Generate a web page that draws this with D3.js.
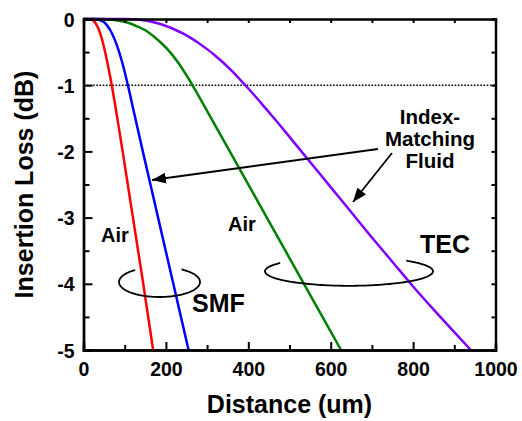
<!DOCTYPE html>
<html>
<head>
<meta charset="utf-8">
<script src="https://cdn.jsdelivr.net/npm/d3@7"></script>
<style>
  body { margin: 0; background: #fff; }
  text { font-family: "Liberation Sans", Arial, sans-serif; font-weight: bold; }
</style>
</head>
<body>
<div id="chart"></div>
<script>
// valeurs : [distance (um), perte (dB)]
const smfAir = [[0,0],[15,0],[20,-0.01],[25,-0.03],[30,-0.07],[35,-0.13],[40,-0.21],[45,-0.31],[50,-0.43],[55,-0.57],[60,-0.72],[65,-0.88],[70,-1.05],[75,-1.23],[80,-1.42],[85,-1.61],[95,-2.0],[120,-3.0],[145,-4.0],[169,-5.0]];
const smfFluid = [[0,0],[30,0],[35,-0.005],[40,-0.015],[45,-0.03],[50,-0.05],[55,-0.08],[60,-0.12],[65,-0.17],[70,-0.23],[75,-0.3],[80,-0.38],[85,-0.47],[90,-0.57],[95,-0.68],[100,-0.8],[105,-0.93],[110,-1.06],[115,-1.2],[120,-1.34],[144,-2.0],[181,-3.0],[218,-4.0],[255,-5.0]];
const tecAir = [[0,0],[50,0],[70,-0.01],[90,-0.03],[110,-0.06],[130,-0.11],[150,-0.17],[170,-0.26],[190,-0.37],[210,-0.5],[230,-0.66],[250,-0.85],[270,-1.06],[290,-1.28],[355,-2.0],[445,-3.0],[535,-4.0],[625,-5.0]];
const tecFluid = [[0,0],[100,0],[120,-0.005],[140,-0.015],[160,-0.035],[180,-0.065],[200,-0.105],[220,-0.155],[240,-0.215],[260,-0.285],[280,-0.365],[300,-0.455],[320,-0.555],[340,-0.665],[360,-0.785],[380,-0.915],[400,-1.05],[420,-1.19],[440,-1.335],[460,-1.48],[500,-1.78],[550,-2.16],[600,-2.54],[650,-2.92],[700,-3.3],[750,-3.67],[800,-4.04],[850,-4.39],[900,-4.73],[940,-5.0]];

const series = [
    { name: "SMF air", values: smfAir, color: "#ff0000" },
    { name: "SMF fluid", values: smfFluid, color: "#0000ff" },
    { name: "TEC air", values: tecAir, color: "#008000" },
    { name: "TEC fluid", values: tecFluid, color: "#8000ff" }
];

const xMajor = [0, 200, 400, 600, 800, 1000];
const xMinor = [100, 300, 500, 700, 900];
const yMajor = [0, -1, -2, -3, -4, -5];
const yMinor = [-0.5, -1.5, -2.5, -3.5, -4.5];
const refLevel = -1;

// taille du svg
const width = 522, height = 421;
const margin = { top: 19, right: 26.5, bottom: 71, left: 83.5 };

const svg = d3.select("#chart")
    .append("svg")
    .attr("width", width)
    .attr("height", height);

const x = d3.scaleLinear().domain([0, 1000]).range([margin.left, width - margin.right]);
const y = d3.scaleLinear().domain([-5, 0]).range([height - margin.bottom, margin.top]);

// ligne pointillée à -1 dB
svg.append("line")
    .attr("x1", x(0)).attr("x2", x(1000))
    .attr("y1", y(refLevel)).attr("y2", y(refLevel))
    .attr("stroke", "black")
    .attr("stroke-width", 1.6)
    .attr("stroke-dasharray", "1.6,1.6");

// courbes
const line = d3.line()
    .x(d => x(d[0]))
    .y(d => y(d[1]))
    .curve(d3.curveMonotoneX);

svg.selectAll("path.curve")
    .data(series)
    .join("path")
    .attr("class", "curve")
    .attr("d", d => line(d.values))
    .attr("fill", "none")
    .attr("stroke", d => d.color)
    .attr("stroke-width", 2.5);

// axes (ticks vers l'intérieur)
const fmt = d => String(d);
svg.append("g").attr("transform", `translate(0,${y(-5)})`)
    .call(d3.axisBottom(x).tickValues(xMajor).tickSize(-8).tickPadding(12).tickFormat(fmt));
svg.append("g").attr("transform", `translate(0,${y(-5)})`)
    .call(d3.axisBottom(x).tickValues(xMinor).tickSize(-5).tickFormat(""));
const axisLeft = svg.append("g").attr("transform", `translate(${x(0)},0)`)
    .call(d3.axisLeft(y).tickValues(yMajor).tickSize(-9).tickPadding(9).tickFormat(fmt));
svg.append("g").attr("transform", `translate(${x(0)},0)`)
    .call(d3.axisLeft(y).tickValues(yMinor).tickSize(-6).tickFormat(""));
svg.append("g").attr("transform", `translate(0,${y(0)})`)
    .call(d3.axisTop(x).tickValues(xMajor.concat(xMinor)).tickSize(-4).tickFormat(""));
svg.append("g").attr("transform", `translate(${x(1000)},0)`)
    .call(d3.axisRight(y).tickValues(yMajor.concat(yMinor)).tickSize(-4).tickFormat(""));

svg.selectAll(".domain").attr("stroke", "black").attr("stroke-width", 2.4);
svg.selectAll(".tick line").attr("stroke", "black").attr("stroke-width", 2);
svg.selectAll(".tick text").attr("fill", "black").style("font-size", "19.5px")
    .style("font-family", "'Liberation Sans', Arial, sans-serif").style("font-weight", "bold");
axisLeft.selectAll(".tick text").attr("dy", "0.36em");

// titres des axes
svg.append("text")
    .attr("x", (x(0) + x(1000)) / 2)
    .attr("y", 413)
    .attr("text-anchor", "middle")
    .style("font-size", "25px")
    .text("Distance (um)");

svg.append("text")
    .attr("transform", `translate(33,${(y(0) + y(-5)) / 2}) rotate(-90)`)
    .attr("text-anchor", "middle")
    .style("font-size", "25px")
    .text("Insertion Loss (dB)");

// annotations
const labels = svg.append("g").style("fill", "black");
labels.append("text").attr("x", 101).attr("y", 242).style("font-size", "20px").text("Air");
labels.append("text").attr("x", 228).attr("y", 231).style("font-size", "20px").text("Air");
labels.append("text").attr("x", 192).attr("y", 312).style("font-size", "25px").text("SMF");
labels.append("text").attr("x", 420).attr("y", 253).style("font-size", "25px").text("TEC");

const fluid = labels.append("text").attr("text-anchor", "middle").style("font-size", "20.5px");
["Index-", "Matching", "Fluid"].forEach((t, i) => {
    fluid.append("tspan").attr("x", 430).attr("y", 124 + i * 22).text(t);
});

// flèches
svg.append("defs").append("marker")
    .attr("id", "head")
    .attr("viewBox", "0 0 10 10")
    .attr("refX", 10).attr("refY", 5)
    .attr("markerWidth", 14).attr("markerHeight", 11)
    .attr("markerUnits", "userSpaceOnUse")
    .attr("orient", "auto")
    .attr("preserveAspectRatio", "none")
    .append("path")
    .attr("d", "M0,0 L10,5 L0,10 Z")
    .attr("fill", "black");

svg.append("line")
    .attr("x1", 378).attr("y1", 149).attr("x2", 152).attr("y2", 180)
    .attr("stroke", "black").attr("stroke-width", 1.8)
    .attr("marker-end", "url(#head)");
svg.append("line")
    .attr("x1", 392).attr("y1", 153).attr("x2", 353).attr("y2", 202)
    .attr("stroke", "black").attr("stroke-width", 1.8)
    .attr("marker-end", "url(#head)");

// ellipses ouvertes en haut
function openEllipse(cx, cy, rx, ry, a0, a1) {
    // a0..a1 : angles (degrés, sens trigo) de l'ouverture
    const pts = d3.range(a1, a0 + 360 + 1, 2).map(a => {
        const r = a * Math.PI / 180;
        return [cx + rx * Math.cos(r), cy - ry * Math.sin(r)];
    });
    svg.append("path")
        .attr("d", d3.line()(pts))
        .attr("fill", "none")
        .attr("stroke", "black")
        .attr("stroke-width", 1.8);
}
openEllipse(159.5, 282, 40.5, 15, 57, 127);
openEllipse(349, 271.3, 84, 14.5, 48, 145);
</script>
</body>
</html>
